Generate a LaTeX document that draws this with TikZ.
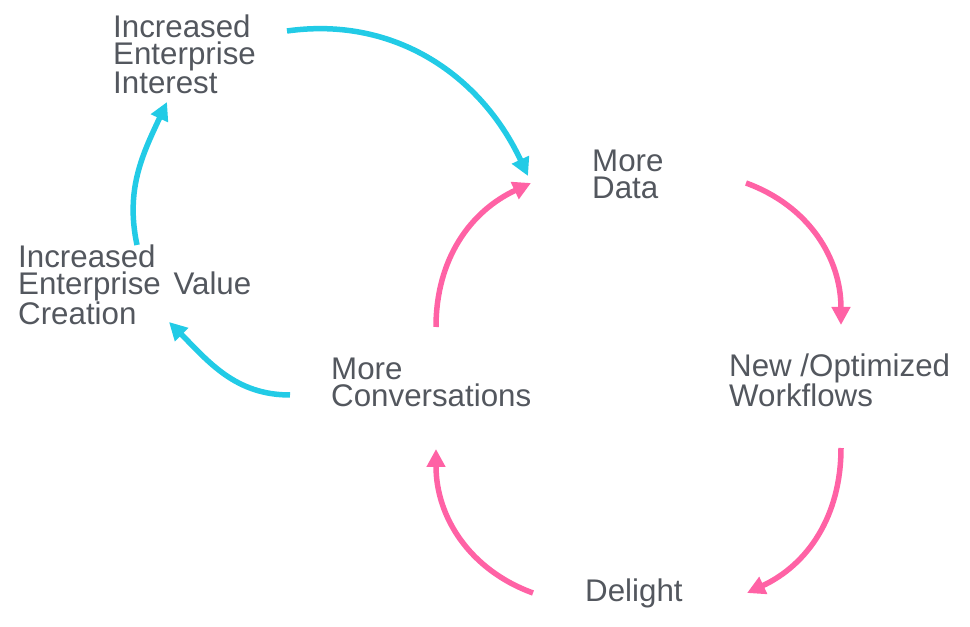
\documentclass[tikz,border=0pt]{standalone}
\usepackage{fontspec}
\setmainfont{Liberation Sans}
\usetikzlibrary{arrows.meta}
\definecolor{txt}{HTML}{53575E}
\definecolor{cy}{HTML}{22CBE6}
\definecolor{pk}{HTML}{FF62A5}
\begin{document}
\begin{tikzpicture}[x=1pt,y=1pt,
  lbl/.style={anchor=base west, inner sep=0pt, align=left, text=txt,
    font=\fontsize{31.3}{27}\selectfont},
  cyarr/.style={draw=cy, line width=5.5pt, -{Triangle[length=18pt,width=18pt]}},
  pkarr/.style={draw=pk, line width=5.5pt, -{Triangle[length=18pt,width=18pt]}}]
\useasboundingbox (0,0) rectangle (970,627);
% labels (anchored at the baseline of their last line)
\node[lbl] (iei) at (113,533) {Increased\\Enterprise\\Interest};
\node[lbl] (ievc) at (18,302) {Increased\\Enterprise\hspace{4pt} Value\\Creation};
\node[lbl] (conv) at (331,220) {More\\Conversations};
\node[lbl] (data) at (592,428) {More\\Data};
\node[lbl] (work) at (729,220) {New /Optimized\\Workflows};
\node[lbl] (del) at (585,25) {Delight};
% arrow end points
\coordinate (a1s) at (287,596); \coordinate (a1e) at (528,451);
\coordinate (a2s) at (436,300); \coordinate (a2e) at (531,444);
\coordinate (a3s) at (746,444); \coordinate (a3e) at (841,302);
\coordinate (a4s) at (841,179); \coordinate (a4e) at (747,34);
\coordinate (a5s) at (533,34);  \coordinate (a5e) at (436,178);
\coordinate (a6s) at (290,232); \coordinate (a6e) at (169,305);
\coordinate (a7s) at (137,382); \coordinate (a7e) at (167,525);
% arrows
\draw[cyarr] (a1s) to[out=8,in=115] (a1e);
\draw[pkarr] (a2s) to[out=90,in=205] (a2e);
\draw[pkarr] (a3s) to[out=-20,in=90] (a3e);
\draw[pkarr] (a4s) to[out=-90,in=25] (a4e);
\draw[pkarr] (a5s) to[out=160,in=-90] (a5e);
\draw[cyarr] (a6s) to[out=180,in=-45] (a6e);
\draw[cyarr] (a7s) to[out=102,in=-115] (a7e);
\end{tikzpicture}
\end{document}
